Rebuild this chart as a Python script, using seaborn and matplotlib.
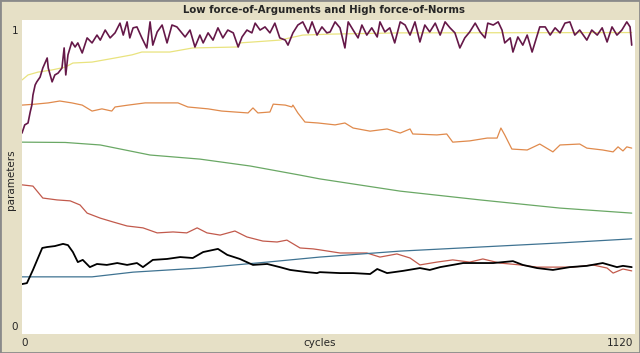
import pandas as pd
import matplotlib
matplotlib.use("Agg")
import matplotlib.pyplot as plt
import seaborn as sns

# --- series (cycle, value) ---
purple_x = [0, 5, 11, 15, 18, 20, 24, 27, 33, 38, 46, 48, 55, 60, 66, 73, 77, 80, 84, 91,
            97, 102, 110, 119, 128, 137, 143, 152, 161, 170, 179, 185, 192, 197, 203, 210,
            219, 228, 234, 239, 247, 256, 265, 274, 283, 298, 307, 316, 325, 331, 340, 349,
            358, 367, 376, 386, 395, 402, 411, 420, 426, 435, 444, 453, 462, 471, 481, 486,
            495, 504, 513, 523, 530, 539, 548, 557, 563, 572, 581, 590, 596, 605, 614, 621,
            630, 639, 649, 654, 663, 672, 681, 691, 700, 709, 718, 727, 736, 745, 755, 764,
            773, 782, 791, 800, 809, 818, 828, 837, 846, 851, 861, 870, 877, 882, 892, 897,
            906, 915, 923, 932, 937, 946, 956, 965, 974, 983, 992, 1001, 1010, 1019, 1032,
            1041, 1051, 1060, 1069, 1078, 1087, 1096, 1105, 1111, 1114]
purple_y = [0.640, 0.666, 0.672, 0.707, 0.729, 0.761, 0.793, 0.803, 0.818, 0.847, 0.879, 0.847,
            0.803, 0.825, 0.831, 0.847, 0.911, 0.825, 0.889, 0.930, 0.914, 0.927, 0.895, 0.943,
            0.927, 0.952, 0.936, 0.968, 0.943, 0.959, 0.990, 0.952, 0.994, 0.943, 0.975, 0.978,
            0.943, 0.911, 0.994, 0.920, 0.962, 0.984, 0.927, 0.984, 0.978, 0.946, 0.968, 0.914,
            0.952, 0.927, 0.959, 0.936, 0.975, 0.943, 0.968, 0.959, 0.914, 0.946, 0.968, 0.959,
            0.990, 0.968, 0.978, 0.959, 0.990, 0.943, 0.936, 0.920, 0.959, 0.984, 0.994, 0.959,
            0.994, 0.952, 0.978, 0.959, 0.962, 0.994, 0.975, 0.911, 0.994, 0.968, 0.943, 0.984,
            0.952, 0.975, 0.946, 0.994, 0.962, 0.975, 0.927, 0.994, 0.984, 0.952, 0.994, 0.930,
            0.984, 0.962, 0.990, 0.952, 0.994, 0.975, 0.959, 0.911, 0.943, 0.962, 0.990, 0.962,
            0.943, 0.990, 0.984, 0.994, 0.968, 0.927, 0.943, 0.898, 0.946, 0.920, 0.952, 0.898,
            0.927, 0.978, 0.978, 0.952, 0.975, 0.959, 0.990, 0.994, 0.952, 0.968, 0.936, 0.968,
            0.952, 0.975, 0.930, 0.978, 0.952, 0.968, 0.994, 0.978, 0.920]

yellow_x = [0, 11, 29, 55, 79, 93, 128, 170, 201, 219, 270, 312, 393, 398, 471, 513, 563, 691, 1114]
yellow_y = [0.809, 0.825, 0.834, 0.841, 0.850, 0.863, 0.866, 0.879, 0.889, 0.898, 0.898, 0.911,
            0.914, 0.927, 0.936, 0.952, 0.955, 0.959, 0.960]

orange_x = [0, 24, 48, 69, 91, 110, 128, 146, 164, 170, 194, 225, 285, 303, 340, 365, 413, 422,
            431, 453, 459, 481, 493, 495, 504, 517, 541, 572, 590, 605, 636, 667, 691, 709, 714,
            758, 776, 787, 818, 850, 868, 875, 882, 895, 923, 946, 970, 983, 1019, 1032, 1061,
            1080, 1089, 1098, 1105, 1114]
orange_y = [0.729, 0.732, 0.736, 0.742, 0.736, 0.729, 0.710, 0.717, 0.710, 0.723, 0.729, 0.736,
            0.736, 0.723, 0.717, 0.710, 0.704, 0.720, 0.704, 0.707, 0.732, 0.729, 0.723, 0.729,
            0.704, 0.675, 0.672, 0.666, 0.672, 0.656, 0.646, 0.653, 0.640, 0.653, 0.637, 0.634,
            0.637, 0.611, 0.615, 0.624, 0.624, 0.656, 0.634, 0.589, 0.586, 0.605, 0.580, 0.602,
            0.605, 0.592, 0.586, 0.580, 0.596, 0.583, 0.596, 0.592]

green_x = [0, 79, 143, 234, 325, 417, 508, 544, 691, 837, 983, 1114]
green_y = [0.611, 0.610, 0.602, 0.570, 0.557, 0.535, 0.506, 0.494, 0.455, 0.427, 0.401, 0.385]

red_x = [0, 20, 38, 64, 88, 106, 119, 143, 166, 192, 221, 247, 276, 301, 320, 338, 362, 389,
         411, 440, 466, 484, 508, 532, 544, 581, 630, 654, 685, 709, 727, 758, 787, 818, 842,
         873, 910, 941, 970, 1007, 1043, 1069, 1080, 1098, 1114]
red_y = [0.475, 0.471, 0.433, 0.427, 0.424, 0.411, 0.385, 0.369, 0.357, 0.344, 0.338, 0.322,
         0.325, 0.322, 0.338, 0.322, 0.315, 0.328, 0.309, 0.296, 0.293, 0.299, 0.274, 0.271,
         0.268, 0.258, 0.258, 0.245, 0.255, 0.242, 0.220, 0.229, 0.236, 0.229, 0.239, 0.226,
         0.220, 0.213, 0.213, 0.213, 0.220, 0.210, 0.194, 0.207, 0.201]

blue_x = [0, 128, 203, 325, 448, 544, 691, 837, 983, 1114]
blue_y = [0.182, 0.182, 0.197, 0.210, 0.229, 0.245, 0.264, 0.277, 0.290, 0.303]

black_x = [0, 9, 20, 37, 46, 60, 75, 84, 93, 102, 111, 124, 137, 155, 174, 192, 210, 221, 239,
           265, 289, 312, 331, 358, 375, 398, 422, 448, 471, 490, 521, 539, 544, 581, 605, 636,
           649, 667, 696, 727, 745, 764, 787, 806, 831, 861, 897, 915, 941, 970, 1001, 1032,
           1061, 1087, 1098, 1114]
black_y = [0.159, 0.162, 0.204, 0.274, 0.277, 0.280, 0.287, 0.283, 0.261, 0.229, 0.236, 0.213,
           0.223, 0.220, 0.226, 0.220, 0.226, 0.213, 0.236, 0.239, 0.245, 0.242, 0.261, 0.271,
           0.252, 0.239, 0.220, 0.223, 0.213, 0.204, 0.197, 0.194, 0.197, 0.194, 0.194, 0.191,
           0.207, 0.194, 0.201, 0.210, 0.204, 0.213, 0.220, 0.226, 0.226, 0.226, 0.232, 0.220,
           0.210, 0.204, 0.213, 0.217, 0.226, 0.213, 0.217, 0.213]

X_MAX = 1120
BG = "#e6e0c6"

series = [
    (yellow_x, yellow_y, "#e9e37e", 0.9),
    (orange_x, orange_y, "#e08a4c", 0.9),
    (green_x, green_y, "#6aa865", 0.9),
    (red_x, red_y, "#c25a4c", 0.9),
    (blue_x, blue_y, "#3f7392", 0.9),
    (black_x, black_y, "#000000", 1.3),
    (purple_x, purple_y, "#651848", 1.2),
]

sns.set_style("white")
plt.rcParams["font.family"] = ["DejaVu Sans"]

fig = plt.figure(figsize=(6.4, 3.53), dpi=100, facecolor=BG)
ax = fig.add_axes([22 / 640, 19 / 353, 613 / 640, 314 / 353])
ax.set_facecolor("white")

for xs, ys, col, lw in series:
    df = pd.DataFrame({"cycles": xs, "parameters": ys})
    sns.lineplot(data=df, x="cycles", y="parameters", ax=ax, color=col,
                 linewidth=lw, estimator=None, sort=False)

ax.set_xlim(0, X_MAX)
ax.set_ylim(0, 1)
ax.set_xticks([])
ax.set_yticks([])
ax.set_xlabel("")
ax.set_ylabel("")
for s in ax.spines.values():
    s.set_visible(False)

# NetLogo style labels around the plot
fig.text(324 / 640, 1 - 10 / 353, "Low force-of-Arguments and High force-of-Norms",
         ha="center", va="center", fontsize=7.3, fontweight="bold")
fig.text(15 / 640, 1 - 31 / 353, "1", ha="center", va="center", fontsize=7.5)
fig.text(15 / 640, 1 - 327 / 353, "0", ha="center", va="center", fontsize=7.5)
fig.text(25 / 640, 1 - 343 / 353, "0", ha="center", va="center", fontsize=7.5)
fig.text(320 / 640, 1 - 343 / 353, "cycles", ha="center", va="center", fontsize=7.5)
fig.text(633 / 640, 1 - 343 / 353, "1120", ha="right", va="center", fontsize=7.5)
fig.text(11 / 640, 1 - 180 / 353, "parameters", ha="center", va="center",
         rotation=90, fontsize=7.5)

# window frame
frame = plt.Rectangle((0, 0), 1, 1, transform=fig.transFigure, fill=False,
                      edgecolor="#8a8a8a", linewidth=2)
fig.patches.append(frame)

fig.savefig("out.png", dpi=100, facecolor=BG)
